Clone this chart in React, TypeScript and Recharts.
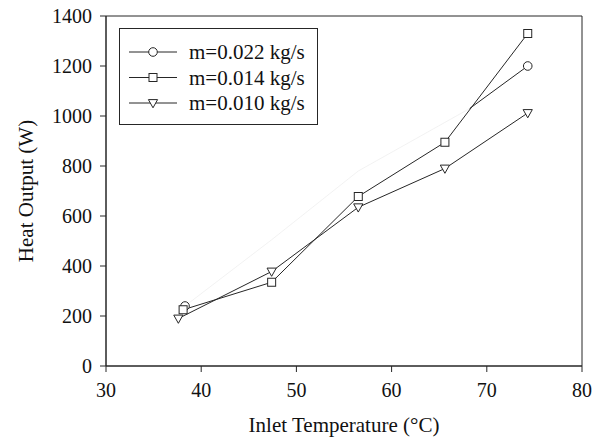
import React from 'react'
import { LineChart, Line, XAxis, YAxis, ReferenceArea } from 'recharts'

const TEMP_022 = [38.3, 47.4, 56.5, 68.2]
const HEAT_022 = [240, 505, 780, 1030]
const TEMP_022_END = [68.2, 74.3]
const HEAT_022_END = [1030, 1200]
const TEMP_014 = [38.1, 47.4, 56.5, 65.6, 74.3]
const HEAT_014 = [225, 335, 678, 895, 1330]
const TEMP_010 = [37.6, 47.4, 56.5, 65.6, 74.3]
const HEAT_010 = [190, 378, 635, 790, 1012]

const X_TICKS = [30, 40, 50, 60, 70, 80]
const Y_TICKS = [0, 200, 400, 600, 800, 1000, 1200, 1400]
const SERIES_LABELS = ['m=0.022 kg/s', 'm=0.014 kg/s', 'm=0.010 kg/s']

const INK = '#262626'
const FONT = '"Liberation Serif", "Times New Roman", serif'

const zip = (xs: number[], ys: number[]) => xs.map((t, i) => ({ temp: t, heat: ys[i] }))

const circleMark = (cx: number, cy: number, key?: any) => (
  <circle key={key} cx={cx} cy={cy} r={4.3} fill="#fff" stroke={INK} strokeWidth={1} />
)
const squareMark = (cx: number, cy: number, key?: any) => (
  <rect key={key} x={cx - 4} y={cy - 4} width={8} height={8} fill="#fff" stroke={INK} strokeWidth={1} />
)
const triangleMark = (cx: number, cy: number, key?: any) => (
  <path
    key={key}
    d={`M${cx - 4.6},${cy - 3.4} L${cx + 4.6},${cy - 3.4} L${cx},${cy + 4.8} Z`}
    fill="#fff"
    stroke={INK}
    strokeWidth={1}
  />
)

const MARKS = [circleMark, squareMark, triangleMark]

function LegendBox() {
  return (
    <svg width={200} height={98} style={{ display: 'block' }}>
      <rect x={0.5} y={0.5} width={198} height={96} fill="#fff" stroke={INK} strokeWidth={1} />
      {SERIES_LABELS.map((label, i) => {
        const y = 24 + i * 25.5
        return (
          <g key={label}>
            <line x1={10} x2={58} y1={y} y2={y} stroke={INK} strokeWidth={1} />
            {MARKS[i](34, y)}
            <text x={70} y={y + 7} fontFamily={FONT} fontSize={21} fill="#111">
              {label}
            </text>
          </g>
        )
      })}
    </svg>
  )
}

export default function App() {
  const tick = { fill: '#111', fontSize: 20, fontFamily: FONT }
  return (
    <div style={{ position: 'absolute', left: 0, top: 0, width: 602, height: 441 }}>
      <LineChart width={602} height={441} margin={{ top: 16, right: 20, left: 0, bottom: 0 }}>
        <XAxis
          dataKey="temp"
          type="number"
          domain={[30, 80]}
          ticks={X_TICKS}
          allowDuplicatedCategory={false}
          height={75}
          tick={tick}
          tickSize={6}
          tickMargin={11}
          stroke={INK}
          label={{
            content: ({ viewBox }: any) => (
              <text
                x={viewBox.x + viewBox.width / 2}
                y={viewBox.y + 66}
                textAnchor="middle"
                fontFamily={FONT}
                fontSize={21}
                fill="#111"
              >
                Inlet Temperature (°C)
              </text>
            ),
          }}
        />
        <YAxis
          type="number"
          domain={[0, 1400]}
          ticks={Y_TICKS}
          width={106}
          tick={tick}
          tickSize={6}
          tickMargin={8}
          stroke={INK}
          label={{
            content: ({ viewBox }: any) => {
              const x = 33
              const y = viewBox.y + viewBox.height / 2
              return (
                <text
                  x={x}
                  y={y}
                  transform={`rotate(-90 ${x} ${y})`}
                  textAnchor="middle"
                  fontFamily={FONT}
                  fontSize={21}
                  fill="#111"
                >
                  Heat Output (W)
                </text>
              )
            },
          }}
        />
        <ReferenceArea x1={30} x2={80} y1={0} y2={1400} fill="none" stroke={INK} strokeWidth={1} ifOverflow="visible" />
        <Line
          data={zip(TEMP_022, HEAT_022)}
          dataKey="heat"
          stroke="#efefef"
          strokeWidth={0.8}
          isAnimationActive={false}
          legendType="none"
          dot={(p: any) => (p.index === 0 ? circleMark(p.cx, p.cy, p.index) : <g key={p.index} />)}
          activeDot={false}
        />
        <Line
          data={zip(TEMP_022_END, HEAT_022_END)}
          dataKey="heat"
          stroke={INK}
          strokeWidth={1}
          isAnimationActive={false}
          legendType="none"
          dot={(p: any) => (p.index === 1 ? circleMark(p.cx, p.cy, p.index) : <g key={p.index} />)}
          activeDot={false}
        />
        <Line
          data={zip(TEMP_014, HEAT_014)}
          dataKey="heat"
          stroke={INK}
          strokeWidth={1}
          isAnimationActive={false}
          legendType="none"
          dot={(p: any) => squareMark(p.cx, p.cy, p.index)}
          activeDot={false}
        />
        <Line
          data={zip(TEMP_010, HEAT_010)}
          dataKey="heat"
          stroke={INK}
          strokeWidth={1}
          isAnimationActive={false}
          legendType="none"
          dot={(p: any) => triangleMark(p.cx, p.cy, p.index)}
          activeDot={false}
        />
      </LineChart>
      <div style={{ position: 'absolute', left: 119, top: 28 }}>
        <LegendBox />
      </div>
    </div>
  )
}
